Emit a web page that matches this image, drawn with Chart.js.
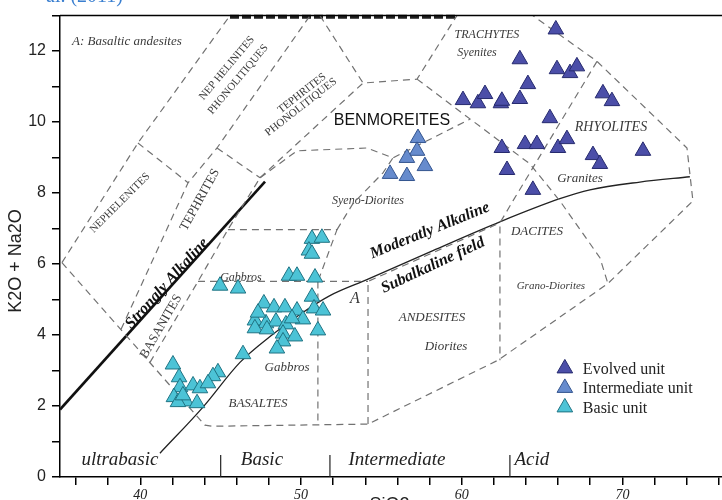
<!DOCTYPE html>
<html>
<head>
<meta charset="utf-8">
<script src="https://cdn.jsdelivr.net/npm/chart.js@4.4.0/dist/chart.umd.min.js"></script>
<style>
    html, body { margin: 0; padding: 0; background: #fff; overflow: hidden; }
    #wrap { width: 780px; height: 500px; }
    canvas { display: block; }
</style>
</head>
<body>
<div id="wrap"><canvas id="tas" width="722" height="500"></canvas></div>
<script>
const seriesNames = ['Evolved unit', 'Intermediate unit', 'Basic unit'];
const seriesFill = ['#4b4ea8', '#668bcd', '#4cc3d6'];
const seriesEdge = ['#262a6e', '#34558f', '#1f7383'];

const evolvedSiO2 = [65.86, 63.62, 65.93, 66.74, 67.17, 68.79, 69.35, 60.08, 61.01, 61.45, 62.44, 62.50, 63.62,
    64.12, 65.49, 62.50, 63.94, 64.68, 65.99, 66.55, 68.17, 68.60, 71.28, 62.82, 64.43];
const evolvedAlk = [12.61, 11.77, 11.49, 11.38, 11.57, 10.81, 10.59, 10.62, 10.53, 10.79, 10.53, 10.60, 10.65,
    11.07, 10.11, 9.27, 9.38, 9.38, 9.27, 9.52, 9.07, 8.82, 9.19, 8.65, 8.09];

const intermediateSiO2 = [57.28, 57.22, 56.59, 57.71, 55.54, 56.59];
const intermediateAlk = [9.55, 9.19, 8.99, 8.76, 8.54, 8.48];

const basicSiO2 = [50.68, 51.30, 50.49, 50.68, 49.25, 49.75, 50.87, 44.96, 46.08, 50.68,
    47.69, 48.32, 49.00, 49.75, 50.81, 51.37, 47.13, 47.82, 48.44, 49.06, 50.12, 47.13, 47.88, 48.88,
    49.62, 51.05, 48.88, 48.50, 46.39, 47.32, 49.44,
    42.03, 42.41, 44.83, 44.52, 42.47, 43.28, 43.71, 44.21, 42.09, 42.84, 43.53, 42.34, 42.65];
const basicAlk = [6.71, 6.74, 6.38, 6.29, 5.67, 5.67, 5.62, 5.39, 5.31, 5.08,
    4.89, 4.78, 4.78, 4.69, 4.75, 4.69, 4.41, 4.33, 4.38, 4.30, 4.44, 4.19, 4.16, 4.04,
    3.96, 4.13, 3.82, 3.62, 3.46, 4.63, 4.47,
    3.17, 2.81, 2.95, 2.84, 2.53, 2.58, 2.50, 2.64, 2.25, 2.13, 2.08, 2.11, 2.30];

// axis ticks
const xLabelTicks = [40, 50, 60, 70];
const yLabelTicks = [0, 2, 4, 6, 8, 10, 12];

// silica classes along the bottom
const silicaClasses = ['ultrabasic', 'Basic', 'Intermediate', 'Acid'];
const silicaClassCentres = [38.73, 47.57, 55.97, 64.37];
const silicaLimits = [45, 51.8, 63];

// field boundaries [SiO2, alkalis]
const nephelinitesLeft = [[35.12, 6.04], [39.85, 9.41], [45.58, 13]];
const nephelinitesTop = [[39.85, 9.41], [42.97, 8.29]];
const tephritesLeft = [[38.80, 4.16], [42.97, 8.29], [44.77, 9.27], [50.56, 13]];
const tephritesTop = [[44.77, 9.27], [47.45, 8.43]];
const basanitesRight = [[40.60, 3.23], [43.59, 5.51], [45.45, 6.97], [47.45, 8.43]];
const phonoTephritesRight = [[47.45, 8.43], [53.86, 11.10]];
const benmoreitesBottom = [[47.45, 8.43], [49.75, 9.19], [54.10, 9.27], [55.72, 8.99], [60.51, 10.08]];
const benmoreitesTop = [[51.18, 13], [53.86, 11.10], [57.22, 11.21], [59.70, 13]];
const trachytesLower = [[57.22, 11.21], [64.25, 8.82], [66.11, 7.78], [68.60, 6.18], [69.10, 5.45]];
const rhyolitesLeft = [[68.42, 11.71], [64.68, 8.90], [63.19, 7.78], [62.38, 7.16], [62.38, 3.29]];
const outerBoundary = [[35.12, 6.04], [44.02, 1.46], [44.52, 1.43], [54.17, 1.49], [62.26, 3.29],
    [69.10, 5.45], [74.39, 7.78], [74.02, 9.27], [68.42, 11.71], [64.43, 13]];
const gabbroTop = [[43.59, 5.51], [54.17, 5.51]];
const basaltRight = [[51.05, 5.51], [51.05, 1.46]];
const andesiteLeft = [[54.17, 1.49], [54.17, 5.51], [62.38, 7.16]];
const alkaliGabbroBox = [[45.45, 6.97], [52.24, 6.97], [51.05, 5.51]];
const syenoDioritesRight = [[52.24, 6.97], [53.23, 7.70], [55.10, 8.57], [55.72, 8.99]];
const topEdge = [[45.58, 12.97], [59.70, 12.97]];
const stronglyAlkaline = [[35, 1.90], [47.76, 8.32]];
const irvineBaragar = [[41.22, 0.67], [43.90, 1.97], [46.20, 3.23], [48.07, 3.96], [49.93, 4.58],
    [51.80, 5.11], [54.10, 5.56], [58.21, 6.38], [62.38, 7.19], [66.11, 7.84], [67.98, 8.09],
    [71.09, 8.31], [74.20, 8.46]];

const SERIF = '"Liberation Serif", "Times New Roman", serif';
const SANS = '"Liberation Sans", Arial, sans-serif';

// names written inside the fields
const fieldLabels = [
    { text: 'A: Basaltic andesites', x: 35.75, y: 12.28, font: 'italic 13px ' + SERIF, align: 'left' },
    { text: 'NEP HELINITES', x: 45.39, y: 11.52, rot: -50, font: '11px ' + SERIF },
    { text: 'PHONOLITIQUES', x: 46.08, y: 11.20, rot: -50, font: '11px ' + SERIF },
    { text: 'TEPHRITES', x: 50.06, y: 10.81, rot: -38, font: '11px ' + SERIF },
    { text: 'PHONOLITIQUES', x: 50.00, y: 10.42, rot: -38, font: '11px ' + SERIF },
    { text: 'BENMOREITES', x: 55.66, y: 10.03, font: '16px ' + SANS, color: '#111' },
    { text: 'TRACHYTES', x: 61.57, y: 12.47, font: 'italic 12px ' + SERIF },
    { text: 'Syenites', x: 60.95, y: 11.94, font: 'italic 12px ' + SERIF },
    { text: 'RHYOLITES', x: 69.29, y: 9.86, font: 'italic 14px ' + SERIF },
    { text: 'Granites', x: 67.36, y: 8.40, font: 'italic 13px ' + SERIF },
    { text: 'Syeno-Diorites', x: 54.17, y: 7.78, font: 'italic 12px ' + SERIF },
    { text: 'Moderatly Alkaline', x: 58.02, y: 6.94, rot: -22, font: 'bold italic 16px ' + SERIF, color: '#111' },
    { text: 'Subalkaline field', x: 58.21, y: 5.96, rot: -25, font: 'bold italic 16px ' + SERIF, color: '#111' },
    { text: 'DACITES', x: 64.68, y: 6.91, font: 'italic 13px ' + SERIF },
    { text: 'Grano-Diorites', x: 65.55, y: 5.39, font: 'italic 11px ' + SERIF },
    { text: 'ANDESITES', x: 58.15, y: 4.49, font: 'italic 13px ' + SERIF },
    { text: 'Diorites', x: 59.02, y: 3.68, font: 'italic 13px ' + SERIF },
    { text: 'A', x: 53.36, y: 5.03, font: 'italic 16px ' + SERIF },
    { text: 'Gabbros', x: 46.26, y: 5.62, font: 'italic 12px ' + SERIF },
    { text: 'Gabbros', x: 49.13, y: 3.09, font: 'italic 13px ' + SERIF },
    { text: 'BASALTES', x: 47.32, y: 2.08, font: 'italic 13px ' + SERIF },
    { text: 'NEPHELENITES', x: 38.73, y: 7.72, rot: -45, font: '11px ' + SERIF },
    { text: 'TEPHRITES', x: 43.71, y: 7.81, rot: -61, font: '13px ' + SERIF },
    { text: 'BASANITES', x: 41.29, y: 4.24, rot: -60, font: '13px ' + SERIF },
    { text: 'Strongly Alkaline', x: 41.66, y: 5.45, rot: -48, font: 'bold italic 16px ' + SERIF, color: '#111' },
];

const toPoints = (xs, ys) => xs.map((x, i) => ({ x, y: ys[i] }));
const toXY = pairs => pairs.map(([x, y]) => ({ x, y }));

function boundary(pairs, style) {
    return Object.assign({
        data: toXY(pairs),
        showLine: true,
        pointRadius: 0,
        borderColor: '#727272',
        borderWidth: 1.2,
        borderDash: [7, 5],
        fill: false,
        order: 2,
    }, style || {});
}

function samples(i, xs, ys) {
    return {
        label: seriesNames[i],
        data: toPoints(xs, ys),
        pointStyle: 'triangle',
        pointRadius: 9,
        pointHoverRadius: 9,
        backgroundColor: seriesFill[i],
        borderColor: seriesEdge[i],
        borderWidth: 1,
        order: 0,
    };
}

const datasets = [
    samples(0, evolvedSiO2, evolvedAlk),
    samples(1, intermediateSiO2, intermediateAlk),
    samples(2, basicSiO2, basicAlk),
    ...[nephelinitesLeft, nephelinitesTop, tephritesLeft, tephritesTop, basanitesRight, phonoTephritesRight,
        benmoreitesBottom, benmoreitesTop, trachytesLower, rhyolitesLeft, outerBoundary, gabbroTop,
        basaltRight, andesiteLeft, alkaliGabbroBox, syenoDioritesRight].map(p => boundary(p)),
    boundary(topEdge, { borderColor: '#1e1e1e', borderWidth: 4, borderDash: [9, 3], clip: false }),
    boundary(stronglyAlkaline, { borderColor: '#111', borderWidth: 2.6, borderDash: [] }),
    boundary(irvineBaragar, { borderColor: '#222', borderWidth: 1.3, borderDash: [], cubicInterpolationMode: 'monotone' }),
    ...silicaLimits.map(s => boundary([[s, 0], [s, 0.62]], { borderColor: '#222', borderWidth: 1.2, borderDash: [] })),
];

const decorations = {
    id: 'decorations',
    beforeDatasetsDraw(chart) {
        const { ctx, scales: { x, y } } = chart;
        fieldLabels.forEach(l => {
            ctx.save();
            ctx.translate(x.getPixelForValue(l.x), y.getPixelForValue(l.y));
            ctx.rotate((l.rot || 0) * Math.PI / 180);
            ctx.font = l.font;
            ctx.fillStyle = l.color || '#3a3a3a';
            ctx.textAlign = l.align || 'center';
            ctx.textBaseline = 'middle';
            ctx.fillText(l.text, 0, 0);
            ctx.restore();
        });
        ctx.save();
        ctx.font = 'italic 19px ' + SERIF;
        ctx.fillStyle = '#222';
        ctx.textAlign = 'center';
        ctx.textBaseline = 'middle';
        silicaClasses.forEach((c, i) => {
            ctx.fillText(c, x.getPixelForValue(silicaClassCentres[i]), y.getPixelForValue(0.48));
        });
        ctx.restore();
    },
    afterDraw(chart) {
        const { ctx, chartArea, scales: { x, y } } = chart;
        ctx.save();
        // top frame line
        ctx.strokeStyle = '#000';
        ctx.lineWidth = 1.5;
        ctx.beginPath();
        ctx.moveTo(chartArea.left, chartArea.top);
        ctx.lineTo(chart.width, chartArea.top);
        ctx.stroke();

        // axis titles
        ctx.fillStyle = '#222';
        ctx.font = '18px ' + SANS;
        ctx.textAlign = 'center';
        ctx.textBaseline = 'middle';
        ctx.save();
        ctx.translate(chartArea.left - 44, 261);
        ctx.rotate(-Math.PI / 2);
        ctx.fillText('K2O + Na2O', 0, 0);
        ctx.restore();
        ctx.textBaseline = 'top';
        ctx.fillText('SiO2', x.getPixelForValue(55.5), 496);

        // caption cut by the crop
        ctx.fillStyle = '#3a7fd0';
        ctx.font = '20px ' + SERIF;
        ctx.textAlign = 'left';
        ctx.textBaseline = 'alphabetic';
        ctx.fillText('al. (2011)', 46, 2);

        // legend
        const lx = x.getPixelForValue(66.42);
        const ly = y.getPixelForValue(3.06);
        chart.data.datasets.slice(0, 3).forEach((ds, i) => {
            const py = ly + i * 19.5;
            ctx.fillStyle = ds.backgroundColor;
            ctx.strokeStyle = ds.borderColor;
            ctx.lineWidth = 1;
            Chart.helpers.drawPoint(ctx, { pointStyle: 'triangle', radius: 9, borderWidth: 1, rotation: 0 }, lx, py);
            ctx.fillStyle = '#222';
            ctx.font = '16px ' + SERIF;
            ctx.textBaseline = 'middle';
            ctx.fillText(ds.label, lx + 18, py + 1);
        });
        ctx.restore();
    },
};

const chart = new Chart(document.getElementById('tas'), {
    type: 'scatter',
    data: { datasets },
    options: {
        responsive: false,
        maintainAspectRatio: false,
        animation: false,
        events: [],
        layout: { padding: { top: 14, right: 0, bottom: 0, left: 0 } },
        plugins: { legend: { display: false }, tooltip: { enabled: false } },
        scales: {
            x: {
                type: 'linear',
                min: 35,
                max: 76.2,
                border: { display: true, color: '#000', width: 1.5 },
                grid: { drawOnChartArea: false, drawTicks: true, tickLength: 8, tickColor: '#000', lineWidth: 1.5 },
                ticks: {
                    stepSize: 2,
                    includeBounds: false,
                    autoSkip: false,
                    maxRotation: 0,
                    padding: 2,
                    color: '#222',
                    font: { family: SERIF, style: 'italic', size: 14 },
                    callback: v => xLabelTicks.includes(v) ? String(v) : '',
                },
                afterFit: s => { s.height = 23; s.paddingLeft = 0; s.paddingRight = 0; },
            },
            y: {
                type: 'linear',
                min: 0,
                max: 13,
                border: { display: true, color: '#000', width: 1.5 },
                grid: { drawOnChartArea: false, drawTicks: true, tickLength: 8, tickColor: '#000', lineWidth: 1.5 },
                ticks: {
                    stepSize: 1,
                    autoSkip: false,
                    padding: 6,
                    color: '#222',
                    font: { family: SANS, size: 16 },
                    callback: v => yLabelTicks.includes(v) ? String(v) : '',
                },
                afterFit: s => { s.width = 60; },
            },
        },
    },
    plugins: [decorations],
});

// the plot runs up to the right edge of the 722 px picture: widen the canvas by the
// margin Chart.js keeps on the right, the overflow is cut by the window
const gap = 722 - chart.chartArea.right;
if (gap > 0.5) {
    chart.resize(Math.round(722 + gap), 500);
}
</script>
</body>
</html>
